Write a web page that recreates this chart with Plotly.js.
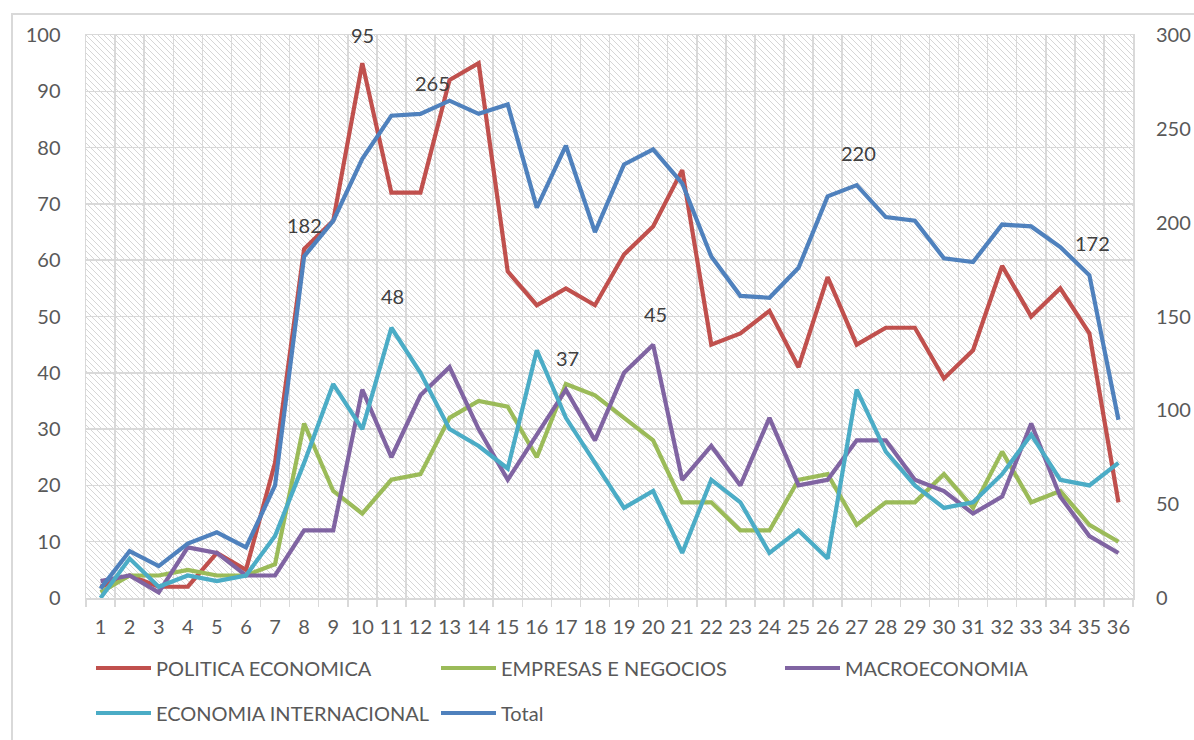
<!DOCTYPE html>
<html>
<head>
<meta charset="utf-8">
<script src="https://cdn.plot.ly/plotly-3.0.1.min.js"></script>
<style>
  html, body { margin: 0; padding: 0; width: 1194px; height: 740px; overflow: hidden; background: #ffffff; }
  #frame { position: absolute; left: 11px; top: 13px; width: 1400px; height: 1000px; border: 2px solid #d9d9d9; pointer-events: none; }
  #chart { position: absolute; left: 0; top: 0; width: 1194px; height: 740px; }
</style>
</head>
<body>
<div id="frame"></div>
<div id="chart"></div>
<script>
// ---- Data ----
const categories = ["1","2","3","4","5","6","7","8","9","10","11","12","13","14","15","16","17","18",
                    "19","20","21","22","23","24","25","26","27","28","29","30","31","32","33","34","35","36"];

const seriesNames = ["POLITICA ECONOMICA", "EMPRESAS E NEGOCIOS", "MACROECONOMIA", "ECONOMIA INTERNACIONAL", "Total"];

const politicaEconomica = [2,4,2,2,8,5,24,62,67,95,72,72,92,95,58,52,55,52,61,66,76,45,47,51,41,57,45,48,48,39,44,59,50,55,47,17];
const empresasNegocios  = [1,4,4,5,4,4,6,31,19,15,21,22,32,35,34,25,38,36,32,28,17,17,12,12,21,22,13,17,17,22,16,26,17,19,13,10];
const macroeconomia     = [3,4,1,9,8,4,4,12,12,37,25,36,41,30,21,29,37,28,40,45,21,27,20,32,20,21,28,28,21,19,15,18,31,18,11,8];
const economiaInternac  = [0,7,2,4,3,4,11,24,38,30,48,40,30,27,23,44,32,24,16,19,8,21,17,8,12,7,37,26,20,16,17,22,29,21,20,24];
const total             = [5,25,17,29,35,27,60,182,201,234,257,258,265,258,263,208,241,195,231,239,221,182,161,160,176,214,220,203,201,181,179,199,198,187,172,95];

const leftTicks  = [0,10,20,30,40,50,60,70,80,90,100];
const rightTicks = [0,50,100,150,200,250,300];

// data labels shown on the chart: [series index, category]
const labelledPoints = [[0,"10"],[4,"8"],[4,"13"],[3,"11"],[2,"17"],[2,"20"],[4,"27"],[4,"35"]];

// ---- Styling ----
const colors = ["#C0504D", "#9BBB59", "#8064A2", "#4BACC6", "#4F81BD"];
const values = [politicaEconomica, empresasNegocios, macroeconomia, economiaInternac, total];
const legendIds = ["legend", "legend2", "legend3", "legend4", "legend5"];
const FONT = "Lato, 'Open Sans', sans-serif";
const TXT = "#595959";
const GRID = "#d9d9d9";

const traces = values.map((v, i) => ({
  type: "scatter",
  mode: "lines",
  name: seriesNames[i],
  x: categories,
  y: v,
  yaxis: i === 4 ? "y2" : "y",
  line: { color: colors[i], width: 4.2 },
  legend: legendIds[i],
  hoverinfo: "x+y+name"
}));

// plot area geometry in pixels
const W = 1194, H = 740;
const mL = 86, mT = 35, mR = 61, mB = 142;
const pw = W - mL - mR, ph = H - mT - mB;

// hatched background
const hatch = "<svg xmlns='http://www.w3.org/2000/svg' width='" + pw + "' height='" + ph + "'>" +
  "<defs><pattern id='p' width='6' height='6' patternUnits='userSpaceOnUse'>" +
  "<path d='M0,0 L6,6 M-1,5 L1,7 M5,-1 L7,1' stroke='#d6d6d6' stroke-width='1'/></pattern></defs>" +
  "<rect width='100%' height='100%' fill='#ffffff'/><rect width='100%' height='100%' fill='url(#p)'/></svg>";
const hatchURI = "data:image/svg+xml;charset=utf-8," + encodeURIComponent(hatch);

const labelShift = {"0-10": [0, 28], "4-8": [0, 31], "4-13": [-17, 18], "3-11": [1, 32], "2-17": [2, 32], "2-20": [2, 31], "4-27": [2, 32], "4-35": [3, 32]};
const annotations = labelledPoints.map(([s, c]) => {
  const idx = categories.indexOf(c);
  const sh = labelShift[s + "-" + c] || [0, 30];
  return {
    x: idx, y: values[s][idx], xref: "x", yref: s === 4 ? "y2" : "y",
    text: String(values[s][idx]), showarrow: false,
    xshift: sh[0], yshift: sh[1],
    font: { family: FONT, size: 20, color: "#404040" }
  };
});

const legendBase = { orientation: "h", xanchor: "left", yanchor: "middle", bgcolor: "rgba(0,0,0,0)",
                     xref: "container", yref: "container", itemwidth: 55,
                     font: { family: FONT, size: 20, color: TXT }, borderwidth: 0 };
const legendPos = [[91, 668], [436, 668], [780, 668], [91, 713], [436, 713]];

const layout = {
  width: W, height: H,
  margin: { l: mL, r: mR, t: mT, b: mB, pad: 0, autoexpand: false },
  paper_bgcolor: "rgba(0,0,0,0)",
  plot_bgcolor: "#ffffff",
  font: { family: FONT, size: 20, color: TXT },
  showlegend: true,
  xaxis: {
    type: "category", range: [-0.5, 35.5], tickson: "boundaries",
    showgrid: true, gridcolor: GRID, gridwidth: 1.5,
    ticks: "outside", ticklen: 7, tickcolor: GRID, tickwidth: 1.5,
    showline: true, mirror: true, linecolor: GRID, linewidth: 1.5,
    tickangle: 0, automargin: false,
    tickfont: { family: FONT, size: 20, color: TXT },
    ticklabelstandoff: 10, fixedrange: true
  },
  yaxis: {
    range: [0, 100], tickvals: leftTicks, ticktext: leftTicks.map(String),
    showgrid: true, gridcolor: GRID, gridwidth: 1.5, zeroline: false,
    showline: true, mirror: true, linecolor: GRID, linewidth: 1.5,
    ticks: "", automargin: false, tickfont: { family: FONT, size: 20, color: TXT },
    ticklabelstandoff: 20, fixedrange: true
  },
  yaxis2: {
    range: [0, 300], tickvals: rightTicks, ticktext: rightTicks.map(String),
    overlaying: "y", side: "right", showgrid: false, zeroline: false, showline: false,
    ticks: "", automargin: false, tickfont: { family: FONT, size: 20, color: TXT },
    ticklabelstandoff: 22, fixedrange: true
  },
  images: [{ source: hatchURI, xref: "paper", yref: "paper", x: 0, y: 1, sizex: 1, sizey: 1,
             sizing: "stretch", xanchor: "left", yanchor: "top", layer: "below" }],
  annotations: annotations
};
legendIds.forEach((id, i) => {
  layout[id] = Object.assign({}, legendBase, { x: legendPos[i][0] / W, y: 1 - legendPos[i][1] / H });
});

Plotly.newPlot("chart", traces, layout, { displayModeBar: false, staticPlot: true });
</script>
</body>
</html>
